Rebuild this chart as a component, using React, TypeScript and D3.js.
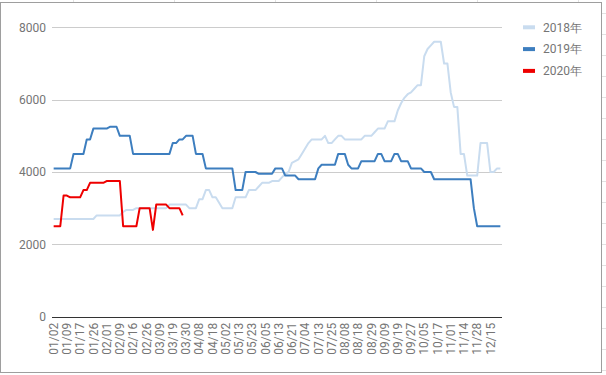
import { line, range, scaleLinear, scalePoint } from "d3";

const dates = [
  "01/02", "01/03", "01/04", "01/07", "01/09", "01/10", "01/14", "01/16",
  "01/17", "01/18", "01/22", "01/24", "01/26", "01/28", "01/29", "01/31",
  "02/01", "02/03", "02/05", "02/07", "02/09", "02/11", "02/13", "02/14",
  "02/16", "02/19", "02/21", "02/24", "02/26", "02/28", "03/04", "03/06",
  "03/09", "03/12", "03/14", "03/16", "03/19", "03/21", "03/25", "03/27",
  "03/30", "04/02", "04/03", "04/04", "04/08", "04/10", "04/12", "04/16",
  "04/18", "04/23", "04/25", "04/27", "05/02", "05/06", "05/08", "05/10",
  "05/13", "05/15", "05/17", "05/21", "05/23", "05/27", "05/29", "05/31",
  "06/05", "06/07", "06/10", "06/11", "06/13", "06/15", "06/18", "06/19",
  "06/21", "06/25", "06/27", "07/02", "07/04", "07/06", "07/09", "07/11",
  "07/13", "07/17", "07/19", "07/23", "07/25", "07/30", "08/01", "08/06",
  "08/08", "08/10", "08/14", "08/16", "08/18", "08/21", "08/23", "08/27",
  "08/29", "08/31", "09/04", "09/06", "09/09", "09/11", "09/13", "09/17",
  "09/19", "09/21", "09/24", "09/26", "09/27", "09/29", "09/30", "10/03",
  "10/05", "10/09", "10/11", "10/15", "10/17", "10/22", "10/25", "10/29",
  "11/01", "11/05", "11/08", "11/12", "11/14", "11/19", "11/22", "11/26",
  "11/28", "12/03", "12/07", "12/11", "12/15", "12/20", "12/25", "12/28",
];

const values2018 = [
  2700, 2700, 2700, 2700, 2700, 2700, 2700, 2700, 2700, 2700, 2700, 2700, 2700, 2800, 2800, 2800,
  2800, 2800, 2800, 2800, 2800, 2900, 2950, 2950, 2950, 3000, 3000, 3000, 3000, 3000, 3000, 3000,
  3000, 3000, 3000, 3100, 3100, 3100, 3100, 3100, 3100, 3000, 3000, 3000, 3250, 3250, 3500, 3500,
  3300, 3300, 3150, 3000, 3000, 3000, 3000, 3300, 3300, 3300, 3300, 3500, 3500, 3500, 3600, 3700,
  3700, 3700, 3750, 3750, 3750, 3850, 3950, 4000, 4250, 4300, 4350, 4500, 4650, 4800, 4900, 4900,
  4900, 4900, 5000, 4800, 4800, 4900, 5000, 5000, 4900, 4900, 4900, 4900, 4900, 4900, 5000, 5000,
  5000, 5100, 5200, 5200, 5200, 5400, 5400, 5400, 5700, 5900, 6050, 6150, 6200, 6300, 6400, 6400,
  7200, 7400, 7500, 7600, 7600, 7600, 7000, 7000, 6200, 5800, 5800, 4500, 4500, 3900, 3900, 3900,
  3900, 4800, 4800, 4800, 4000, 4000, 4100, 4100,
];

const values2019 = [
  4100, 4100, 4100, 4100, 4100, 4100, 4500, 4500, 4500, 4500, 4900, 4900, 5200, 5200, 5200, 5200,
  5200, 5250, 5250, 5250, 5000, 5000, 5000, 5000, 4500, 4500, 4500, 4500, 4500, 4500, 4500, 4500,
  4500, 4500, 4500, 4500, 4800, 4800, 4900, 4900, 5000, 5000, 5000, 4500, 4500, 4500, 4100, 4100,
  4100, 4100, 4100, 4100, 4100, 4100, 4100, 3500, 3500, 3500, 4000, 4000, 4000, 4000, 3950, 3950,
  3950, 3950, 3950, 4100, 4100, 4100, 3900, 3900, 3900, 3900, 3800, 3800, 3800, 3800, 3800, 3800,
  4100, 4200, 4200, 4200, 4200, 4200, 4500, 4500, 4500, 4200, 4100, 4100, 4100, 4300, 4300, 4300,
  4300, 4300, 4500, 4500, 4300, 4300, 4300, 4500, 4500, 4300, 4300, 4300, 4100, 4100, 4100, 4100,
  4000, 4000, 4000, 3800, 3800, 3800, 3800, 3800, 3800, 3800, 3800, 3800, 3800, 3800, 3800, 3000,
  2500, 2500, 2500, 2500, 2500, 2500, 2500, 2500,
];

const values2020 = [
  2500, 2500, 2500, 3350, 3350, 3300, 3300, 3300, 3300, 3500, 3500, 3700, 3700, 3700, 3700, 3700,
  3750, 3750, 3750, 3750, 3750, 2500, 2500, 2500, 2500, 2500, 3000, 3000, 3000, 3000, 2400, 3100,
  3100, 3100, 3100, 3000, 3000, 3000, 3000, 2800,
];

const yTicks = [0, 2000, 4000, 6000, 8000];

const series = [
  { name: "2018年", values: values2018, color: "#c9dcef" },
  { name: "2019年", values: values2019, color: "#3d7ebf" },
  { name: "2020年", values: values2020, color: "#ee0000" },
];

export default function App() {
  const width = 606;
  const height = 375;
  const plotLeft = 52;
  const plotRight = 502;
  const plotTop = 27.3;
  const plotBottom = 316.7;

  const x = scalePoint<string>().domain(dates).range([plotLeft, plotRight]).padding(0.5);
  const y = scaleLinear().domain([0, 8000]).range([plotBottom, plotTop]);

  const makePath = (values: number[]) =>
    line<number>()
      .x((_, i) => x(dates[i]) ?? 0)
      .y((d) => y(d))(values) ?? "";

  const font = "Roboto, Arial, sans-serif";

  return (
    <svg
      width={width}
      height={height}
      viewBox={`0 0 ${width} ${height}`}
      style={{ position: "absolute", left: 0, top: 0, display: "block", background: "#fff" }}
    >
      {/* spreadsheet cells peeking out around the chart */}
      {range(73, width, 101).map((cx) => (
        <line key={`c${cx}`} x1={cx + 0.5} x2={cx + 0.5} y1={0} y2={2} stroke="#e2e2e2" />
      ))}
      {range(13, height, 21).map((cy) => (
        <line key={`r${cy}`} x1={602} x2={width} y1={cy + 0.5} y2={cy + 0.5} stroke="#e2e2e2" />
      ))}
      <rect x={0.5} y={2.5} width={601} height={370} fill="#fff" stroke="#9e9e9e" />

      {yTicks.map((t) => (
        <g key={t}>
          {t > 0 ? (
            <line
              x1={plotLeft}
              x2={plotRight}
              y1={Math.round(y(t)) + 0.5}
              y2={Math.round(y(t)) + 0.5}
              stroke="#cccccc"
            />
          ) : null}
          <text
            x={46}
            y={y(t)}
            dy="0.35em"
            textAnchor="end"
            fill="#757575"
            fontSize={12}
            fontFamily={font}
          >
            {t}
          </text>
        </g>
      ))}

      {series.map((s) => (
        <path
          key={s.name}
          d={makePath(s.values)}
          fill="none"
          stroke={s.color}
          strokeWidth={2}
          strokeLinejoin="round"
        />
      ))}

      <line
        x1={plotLeft}
        x2={plotRight}
        y1={Math.round(plotBottom) + 0.5}
        y2={Math.round(plotBottom) + 0.5}
        stroke="#333333"
      />

      {dates
        .filter((_, i) => i % 4 === 0)
        .map((d) => (
          <text
            key={d}
            transform={`translate(${x(d) ?? 0},${plotBottom + 6}) rotate(-90)`}
            dy="0.35em"
            textAnchor="end"
            fill="#757575"
            fontSize={12}
            fontFamily={font}
          >
            {d}
          </text>
        ))}

      {series.map((s, i) => {
        const ly = 27.3 + i * 21.8;
        return (
          <g key={`lg${s.name}`}>
            <rect x={523} y={ly - 2} width={12} height={4} fill={s.color} />
            <text x={543} y={ly} dy="0.35em" fill="#757575" fontSize={12} fontFamily={font}>
              {s.name}
            </text>
          </g>
        );
      })}
    </svg>
  );
}
